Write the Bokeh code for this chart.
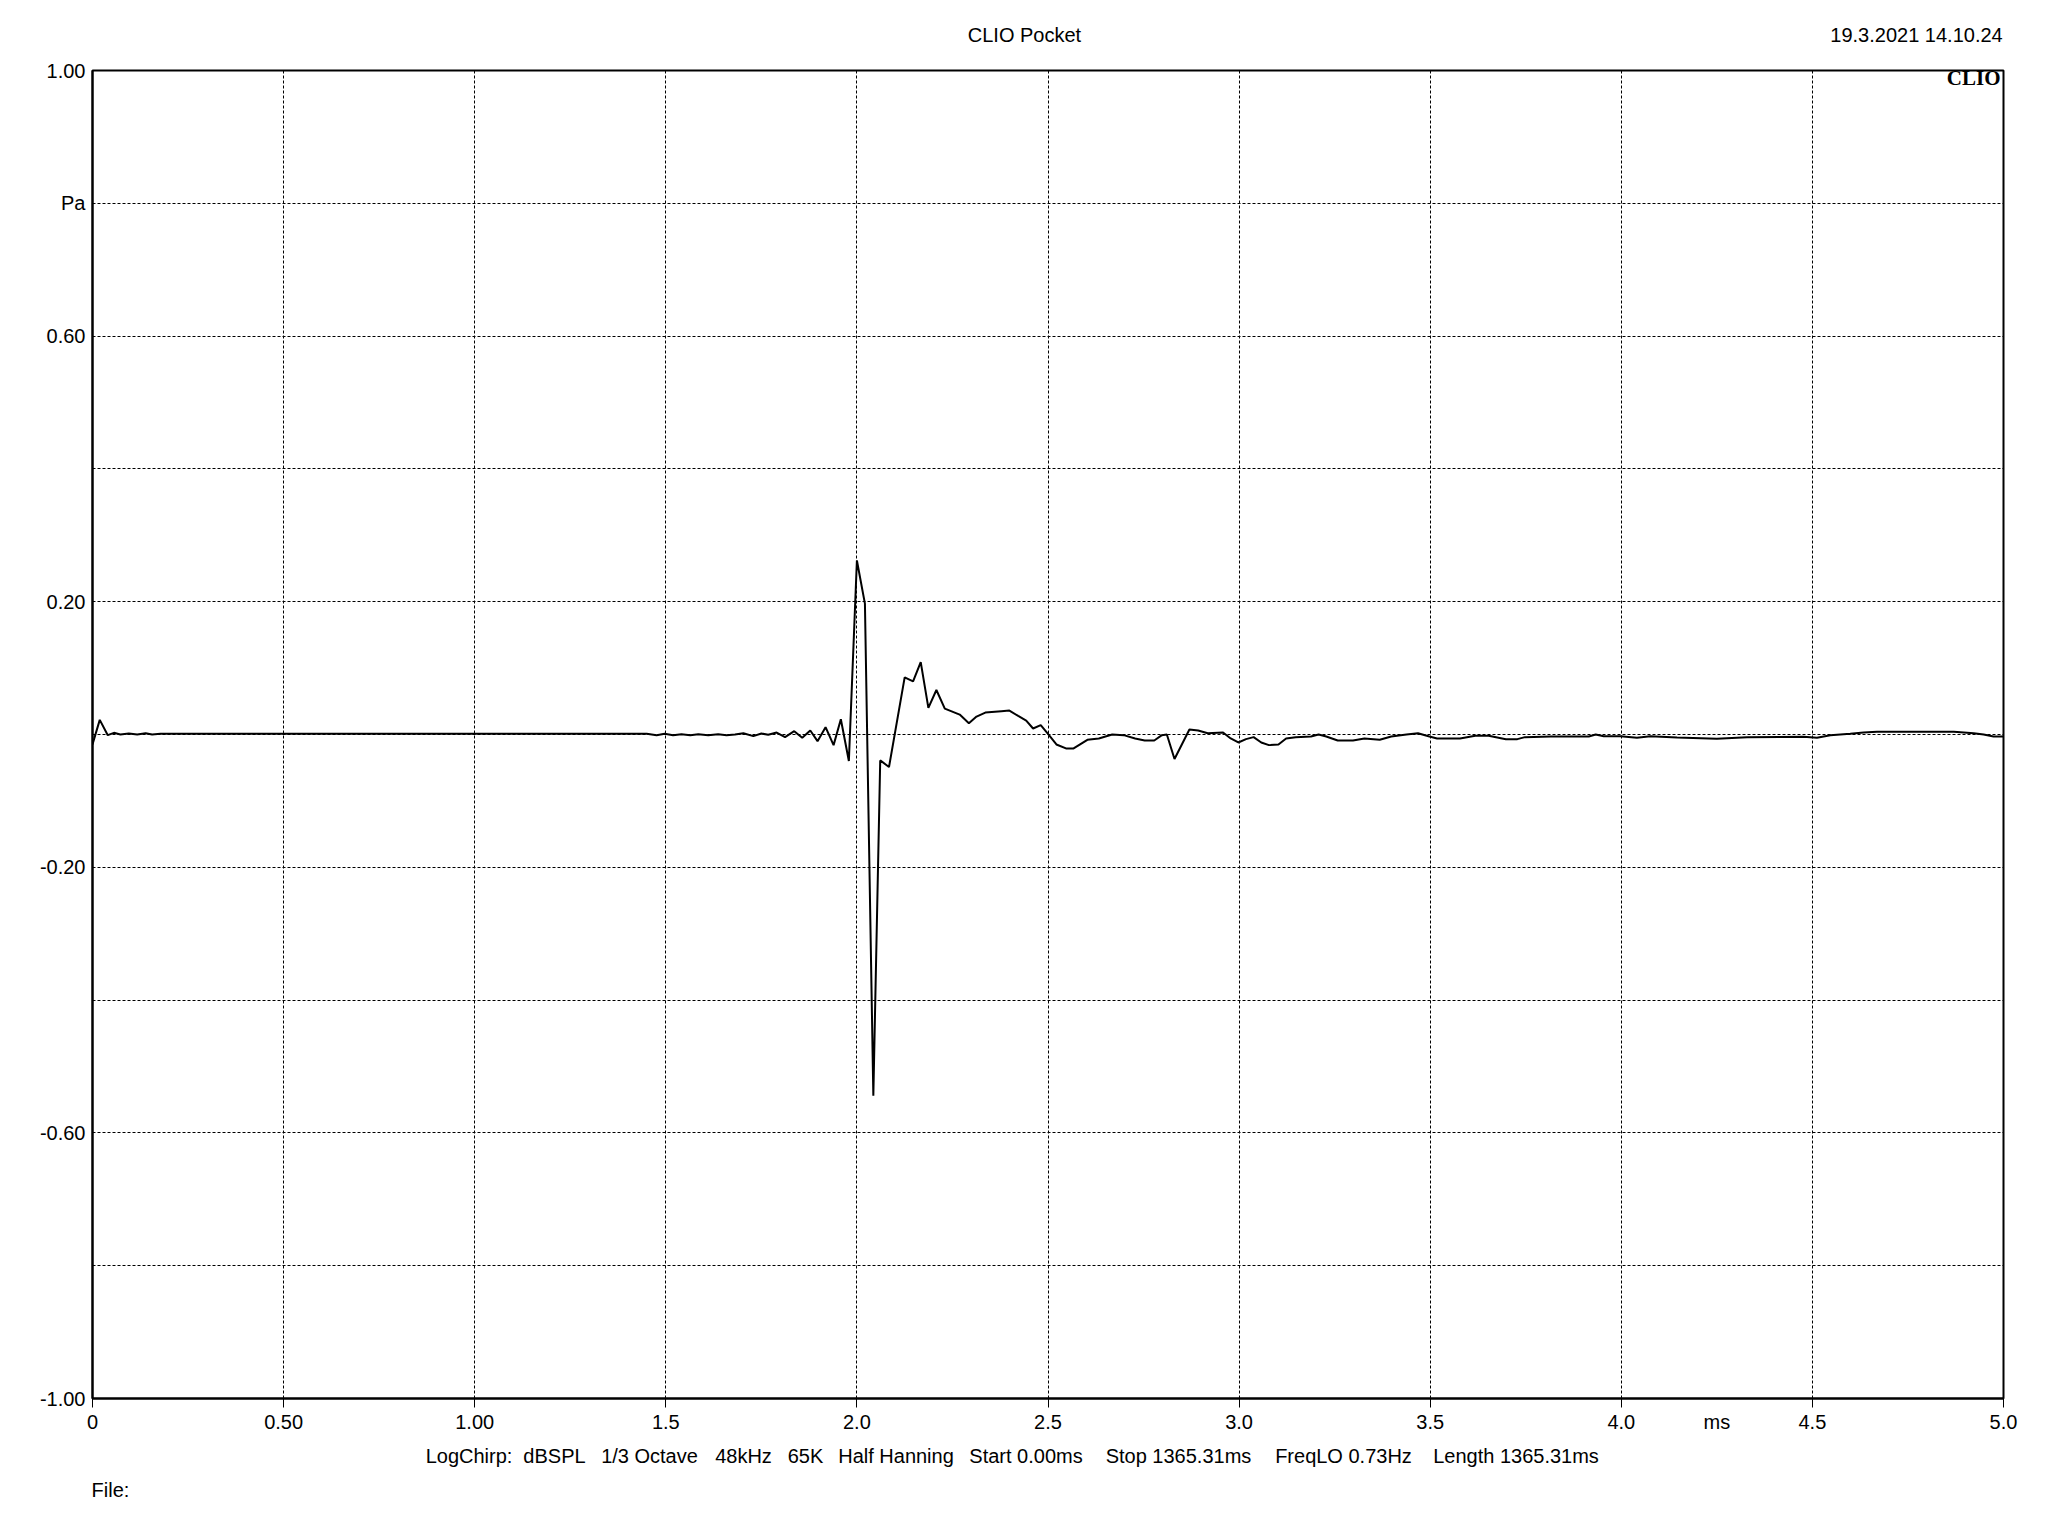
from bokeh.plotting import figure
from bokeh.models import Range1d, FixedTicker, Label, LinearAxis
from bokeh.embed import file_html
from bokeh.resources import INLINE

# ---- data ----
time_ms = [0.000, 0.019, 0.040, 0.056, 0.073, 0.095, 0.117, 0.139, 0.156, 0.178,
           1.450, 1.476, 1.497, 1.519, 1.541, 1.564, 1.585, 1.611, 1.637, 1.659,
           1.681, 1.703, 1.729, 1.750, 1.768, 1.790, 1.812, 1.836, 1.857, 1.878,
           1.897, 1.918, 1.939, 1.958, 1.979, 2.000, 2.021, 2.043, 2.061, 2.084,
           2.125, 2.147, 2.167, 2.187, 2.208, 2.230, 2.269, 2.293, 2.313, 2.336,
           2.378, 2.399, 2.422, 2.443, 2.461, 2.481, 2.500, 2.522, 2.547, 2.567,
           2.603, 2.633, 2.668, 2.698, 2.728, 2.753, 2.778, 2.798, 2.811, 2.831,
           2.870, 2.893, 2.918, 2.958, 2.978, 2.998, 3.018, 3.038, 3.058, 3.078,
           3.103, 3.123, 3.148, 3.188, 3.208, 3.228, 3.258, 3.298, 3.328, 3.368,
           3.398, 3.438, 3.468, 3.498, 3.518, 3.578, 3.618, 3.653, 3.698, 3.728,
           3.748, 3.815, 3.915, 3.933, 3.954, 3.998, 4.041, 4.076, 4.146, 4.250,
           4.329, 4.477, 4.512, 4.547, 4.599, 4.634, 4.669, 4.870, 4.922, 4.948,
           4.974, 5.000]
pressure_pa = [-0.015, 0.022, -0.001, 0.0025, 0.000, 0.0015, 0.000, 0.002, 0.000, 0.001,
               0.001, -0.001, 0.001, -0.001, 0.0005, -0.001, 0.0005, -0.001, 0.0005, -0.001,
               0.000, 0.002, -0.0025, 0.0015, -0.0005, 0.003, -0.004, 0.005, -0.005, 0.006,
               -0.010, 0.011, -0.016, 0.023, -0.040, 0.262, 0.197, -0.544, -0.039, -0.049,
               0.086, 0.080, 0.109, 0.040, 0.067, 0.039, 0.030, 0.017, 0.027, 0.033,
               0.035, 0.036, 0.028, 0.021, 0.009, 0.014, 0.001, -0.015, -0.021, -0.021,
               -0.008, -0.006, 0.000, -0.001, -0.006, -0.009, -0.009, -0.001, 0.000, -0.037,
               0.0075, 0.006, 0.002, 0.003, -0.006, -0.012, -0.007, -0.004, -0.012, -0.016,
               -0.015, -0.006, -0.004, -0.003, 0.000, -0.003, -0.009, -0.009, -0.006, -0.008,
               -0.003, 0.000, 0.002, -0.003, -0.006, -0.006, -0.002, -0.002, -0.007, -0.007,
               -0.004, -0.003, -0.003, 0.000, -0.0025, -0.0025, -0.005, -0.0025, -0.0045, -0.0065,
               -0.004, -0.0035, -0.005, -0.001, 0.001, 0.003, 0.004, 0.004, 0.002, 0.000,
               -0.003, -0.003]

x_ticks = [0.0, 0.5, 1.0, 1.5, 2.0, 2.5, 3.0, 3.5, 4.0, 4.5, 5.0]
x_tick_labels = ["0", "0.50", "1.00", "1.5", "2.0", "2.5", "3.0", "3.5", "4.0", "4.5", "5.0"]
y_ticks = [-1.0, -0.8, -0.6, -0.4, -0.2, 0.0, 0.2, 0.4, 0.6, 0.8, 1.0]
y_tick_labels = ["-1.00", "", "-0.60", "", "-0.20", "", "0.20", "", "0.60", "Pa", "1.00"]
x_unit = "ms"

title_text = "CLIO Pocket"
date_text = "19.3.2021 14.10.24"
logo_text = "CLIO"
file_text = "File:"
info_items = ["LogChirp:", "dBSPL", "1/3 Octave", "48kHz", "65K", "Half Hanning",
              "Start 0.00ms", "Stop 1365.31ms", "FreqLO 0.73Hz", "Length 1365.31ms"]

FONT = "Liberation Sans"
FS = "20px"

# frame: x 92..2003, y 70..1398 on the page
p = figure(width=2040, height=1528, output_backend="svg", toolbar_location=None,
           x_range=Range1d(0, 5), y_range=Range1d(-1, 1),
           min_border_left=92, min_border_right=37, min_border_top=70, min_border_bottom=130)
p.background_fill_color = "white"
p.border_fill_color = "white"
p.outline_line_color = "black"
p.outline_line_width = 2
p.outline_line_alpha = 1.0


def px_to_x(px):
    return (px - 92) / 382.2


def plain_axis(ax):
    ax.axis_line_color = None
    ax.major_tick_line_color = None
    ax.minor_tick_line_color = None
    ax.major_label_text_font = FONT
    ax.major_label_text_font_size = FS
    ax.major_label_text_color = "black"


# main x axis: labels (plus the "ms" unit) from majors, tick marks from minors
xa = p.xaxis[0]
unit_pos = 4.25
xa.ticker = FixedTicker(ticks=x_ticks + [unit_pos], minor_ticks=x_ticks)
ov = {t: l for t, l in zip(x_ticks, x_tick_labels)}
ov[unit_pos] = x_unit
xa.major_label_overrides = ov
xa.axis_line_color = "black"
xa.axis_line_width = 2
xa.major_tick_line_color = None
xa.minor_tick_line_color = "black"
xa.minor_tick_line_width = 1
xa.minor_tick_in = 0
xa.minor_tick_out = 9
xa.major_tick_out = 9
xa.major_tick_in = 0
xa.major_label_standoff = 3
xa.major_label_text_font = FONT
xa.major_label_text_font_size = FS
xa.major_label_text_color = "black"

ya = p.yaxis[0]
ya.ticker = FixedTicker(ticks=y_ticks)
ya.major_label_overrides = {t: l for t, l in zip(y_ticks, y_tick_labels)}
ya.axis_line_color = "black"
ya.axis_line_width = 2
ya.major_tick_line_color = None
ya.minor_tick_line_color = None
ya.major_tick_out = 0
ya.major_tick_in = 0
ya.major_label_standoff = 7
ya.major_label_text_font = FONT
ya.major_label_text_font_size = FS
ya.major_label_text_color = "black"

# header row (title + date) as an axis above the frame
title_pos = px_to_x(1024)
date_pos = px_to_x(1916)
top = LinearAxis(ticker=FixedTicker(ticks=[title_pos, date_pos]),
                 major_label_overrides={title_pos: title_text, date_pos: date_text})
plain_axis(top)
top.major_label_standoff = 19
p.add_layout(top, "above")

# info line below the x axis
info_px = [468.5, 554, 649, 743, 805, 895.5, 1025.5, 1178, 1343, 1515.5]
info_pos = [px_to_x(v) for v in info_px]
info = LinearAxis(ticker=FixedTicker(ticks=info_pos),
                  major_label_overrides={t: s for t, s in zip(info_pos, info_items)})
plain_axis(info)
info.major_label_standoff = 3
p.add_layout(info, "below")

# "File:" line
file_pos = px_to_x(110)
fax = LinearAxis(ticker=FixedTicker(ticks=[file_pos]),
                 major_label_overrides={file_pos: file_text})
plain_axis(fax)
fax.major_label_standoff = 3
p.add_layout(fax, "below")

# grid
for g in (p.xgrid[0], p.ygrid[0]):
    g.grid_line_color = "black"
    g.grid_line_dash = "3 2"
    g.grid_line_width = 1
    g.grid_line_alpha = 1.0
p.xgrid.ticker = FixedTicker(ticks=x_ticks)
p.ygrid.ticker = FixedTicker(ticks=y_ticks)

# trace
p.line(time_ms, pressure_pa, line_color="black", line_width=2)

# CLIO logo inside the frame, top-right
p.add_layout(Label(x=px_to_x(2000), y=(734 - 77) / 664.0, text=logo_text, text_align="right",
                   text_baseline="middle", text_font="Liberation Serif", text_font_size="21px",
                   text_font_style="bold", text_color="black"))

open("out.html", "w").write(file_html(p, INLINE))
